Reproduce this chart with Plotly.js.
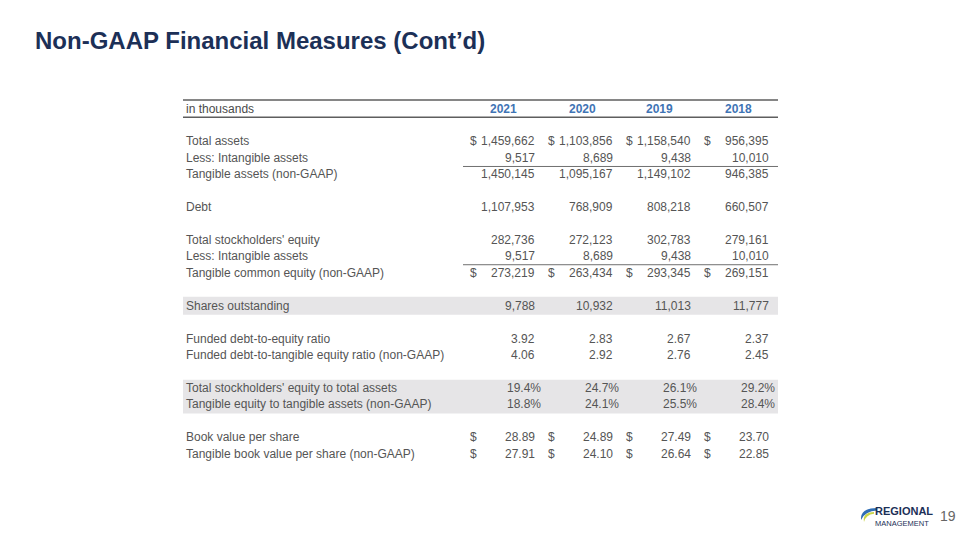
<!DOCTYPE html>
<html><head><meta charset="utf-8">
<script src="https://cdn.plot.ly/plotly-3.0.1.min.js"></script>
<style>body{margin:0;background:#fff}#chart{width:960px;height:540px}</style>
</head><body><div id="chart"></div>
<script>
// ---- data ----
const years = ['2021', '2020', '2019', '2018'];
const headerLabel = 'in thousands';
const totalAssets = [1459662, 1103856, 1158540, 956395];
const intangibleAssets = [9517, 8689, 9438, 10010];
const tangibleAssets = [1450145, 1095167, 1149102, 946385];
const debt = [1107953, 768909, 808218, 660507];
const totalEquity = [282736, 272123, 302783, 279161];
const tangibleEquity = [273219, 263434, 293345, 269151];
const sharesOutstanding = [9788, 10932, 11013, 11777];
const debtToEquity = [3.92, 2.83, 2.67, 2.37];
const debtToTangibleEquity = [4.06, 2.92, 2.76, 2.45];
const equityToAssets = [19.4, 24.7, 26.1, 29.2];
const tangibleEquityToTangibleAssets = [18.8, 24.1, 25.5, 28.4];
const bookValuePerShare = [28.89, 24.89, 27.49, 23.70];
const tangibleBookValuePerShare = [27.91, 24.10, 26.64, 22.85];

const rowLabels = [
  'Total assets', 'Less: Intangible assets', 'Tangible assets (non-GAAP)',
  'Debt',
  "Total stockholders' equity", 'Less: Intangible assets', 'Tangible common equity (non-GAAP)',
  'Shares outstanding',
  'Funded debt-to-equity ratio', 'Funded debt-to-tangible equity ratio (non-GAAP)',
  "Total stockholders' equity to total assets", 'Tangible equity to tangible assets (non-GAAP)',
  'Book value per share', 'Tangible book value per share (non-GAAP)'
];
const rowIndex = [2, 3, 4, 6, 8, 9, 10, 12, 14, 15, 17, 18, 20, 21];
const rowValues = [totalAssets, intangibleAssets, tangibleAssets, debt, totalEquity, intangibleAssets,
  tangibleEquity, sharesOutstanding, debtToEquity, debtToTangibleEquity, equityToAssets,
  tangibleEquityToTangibleAssets, bookValuePerShare, tangibleBookValuePerShare];
const rowFormat = ['int', 'int', 'int', 'int', 'int', 'int', 'int', 'int', 'ratio', 'ratio', 'pct', 'pct', 'money', 'money'];
const rowDollar = [true, false, false, false, false, false, true, false, false, false, false, false, true, true];

// ---- layout constants ----
const valueRight = [536, 614, 692, 770];
const dollarLeft = [469, 547, 625, 703];
const yearCenter = [503, 582, 659, 738];
const labelLeft = 185;
const tableLeft = 183, tableRight = 778;
const textColor = '#555555';
const fontFam = 'Liberation Sans, Arial, sans-serif';
const fsize = 12;
const textShift = -1.5;

function fmt(v, kind) {
  if (kind === 'int') return v.toLocaleString('en-US');
  if (kind === 'ratio' || kind === 'money') return v.toFixed(2);
  if (kind === 'pct') return v.toFixed(1) + '%';
  return String(v);
}

const ann = [];
function txt(x, y, text, xanchor, extra) {
  ann.push(Object.assign({
    xref: 'x', yref: 'y', x: x, y: y, text: text, showarrow: false,
    xanchor: xanchor, yanchor: 'middle', borderpad: 0, yshift: textShift,
    font: {family: fontFam, size: fsize, color: textColor}
  }, extra || {}));
}

// header
txt(labelLeft, 0, headerLabel, 'left', {font: {family: fontFam, size: fsize, color: '#4a4a4a'}});
years.forEach((yr, i) => txt(yearCenter[i], 0, '<b>' + yr + '</b>', 'center',
  {font: {family: fontFam, size: fsize, color: '#3f74b5'}}));

rowLabels.forEach((lab, k) => {
  const r = rowIndex[k];
  txt(labelLeft, r, lab, 'left');
  rowValues[k].forEach((v, i) => {
    const shift = rowFormat[k] === 'pct' ? 6 : 0;
    txt(valueRight[i] + shift, r, fmt(v, rowFormat[k]), 'right');
    if (rowDollar[k]) txt(dollarLeft[i], r, '$', 'left');
  });
});

// title, page number, logo text
ann.push({xref: 'paper', yref: 'paper', x: 33 / 960, y: 1 - 40 / 540, xanchor: 'left', yanchor: 'middle',
  showarrow: false, text: '<b>Non-GAAP Financial Measures (Cont’d)</b>',
  font: {family: fontFam, size: 24, color: '#1c3057'}});
ann.push({xref: 'paper', yref: 'paper', x: 958 / 960, y: 1 - 516 / 540, xanchor: 'right', yanchor: 'middle',
  showarrow: false, text: '19', font: {family: fontFam, size: 14, color: '#666666'}});
ann.push({xref: 'paper', yref: 'paper', x: 873 / 960, y: 1 - 511 / 540, xanchor: 'left', yanchor: 'middle',
  showarrow: false, text: '<b>REGIONAL</b>', font: {family: fontFam, size: 11, color: '#1c3057'}});
ann.push({xref: 'paper', yref: 'paper', x: 873 / 960, y: 1 - 523 / 540, xanchor: 'left', yanchor: 'middle',
  showarrow: false, text: 'MANAGEMENT', font: {family: fontFam, size: 7.5, color: '#1c3057'}});

// shapes
const shapes = [];
// grey bands
[[11.55, 12.65], [16.6, 18.65]].forEach(b => shapes.push({type: 'rect', xref: 'x', yref: 'y', x0: tableLeft, x1: tableRight,
  y0: b[0], y1: b[1], fillcolor: '#e6e5e7', line: {width: 0}, layer: 'below'}));
// header lines
shapes.push({type: 'line', xref: 'x', yref: 'y', x0: tableLeft, x1: tableRight, y0: -0.43, y1: -0.43, line: {color: '#5e5e5e', width: 1.5}});
shapes.push({type: 'line', xref: 'x', yref: 'y', x0: tableLeft, x1: tableRight, y0: 0.62, y1: 0.62, line: {color: '#5e5e5e', width: 1.5}});
// subtotal underlines
[3.62, 9.6].forEach(y => shapes.push({type: 'line', xref: 'x', yref: 'y', x0: 463, x1: tableRight, y0: y, y1: y, line: {color: '#707070', width: 1}}));
// logo swoosh (decorative)
function P(x, y) { return (x / 960) + ',' + (1 - y / 540); }
shapes.push({type: 'path', xref: 'paper', yref: 'paper',
  path: 'M ' + P(877, 508) + ' Q ' + P(860, 508) + ' ' + P(861, 520) + ' Q ' + P(865, 511) + ' ' + P(877, 510.5) + ' Z',
  fillcolor: '#2f6db5', line: {width: 0}});
shapes.push({type: 'path', xref: 'paper', yref: 'paper',
  path: 'M ' + P(874, 512) + ' Q ' + P(862, 512.5) + ' ' + P(864, 522) + ' Q ' + P(866, 514.5) + ' ' + P(874, 513.8) + ' Z',
  fillcolor: '#c9d64a', line: {width: 0}});

const rowPx = 16.43, headerPx = 107;
const layout = {
  width: 960, height: 540, autosize: false,
  margin: {l: 0, r: 0, t: 0, b: 0},
  paper_bgcolor: '#ffffff', plot_bgcolor: '#ffffff',
  showlegend: false,
  xaxis: {range: [0, 960], visible: false, fixedrange: true},
  yaxis: {range: [(540 - headerPx) / rowPx, -headerPx / rowPx], visible: false, fixedrange: true},
  annotations: ann, shapes: shapes
};
const trace = {type: 'scatter', mode: 'markers', x: valueRight, y: [0, 0, 0, 0], marker: {opacity: 0}, hoverinfo: 'skip'};
Plotly.newPlot('chart', [trace], layout, {staticPlot: true, displayModeBar: false});
</script>
</body></html>
